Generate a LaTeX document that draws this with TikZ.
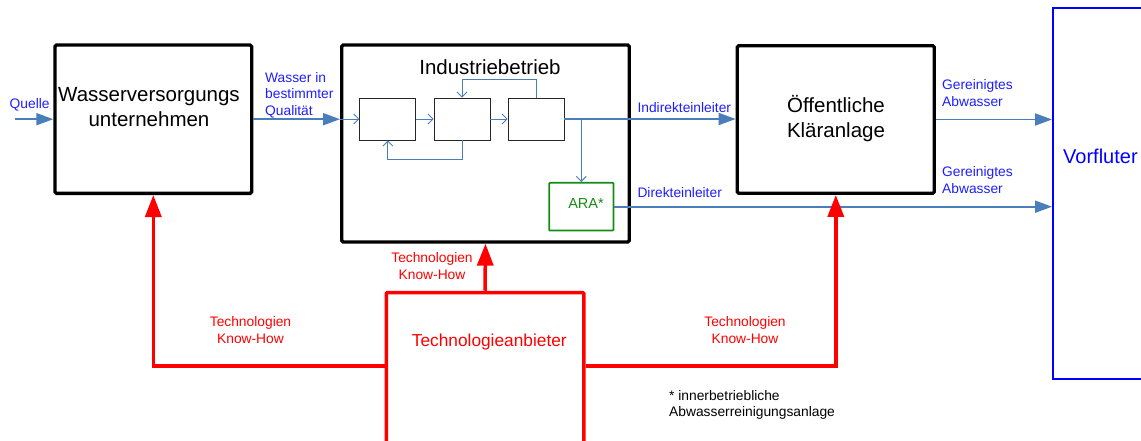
\documentclass[tikz,border=0pt]{standalone}
\usepackage{fontspec}
\setmainfont{Liberation Sans}
\usetikzlibrary{arrows.meta}
\definecolor{ablue}{RGB}{74,126,187}
\definecolor{tblue}{RGB}{30,30,255}
\definecolor{fblue}{RGB}{0,0,255}
\definecolor{agreen}{RGB}{20,140,20}
\definecolor{tred}{RGB}{255,0,0}
\tikzset{
  bbox/.style={draw=black, line width=3.3pt, rounded corners=1.5pt, inner sep=0pt},
  ibox/.style={draw=black!85, line width=0.9pt, inner sep=0pt, minimum width=56pt, minimum height=42pt},
  arabox/.style={draw=agreen, line width=1.8pt, inner sep=0pt, rounded corners=0.8pt},
  vbox/.style={draw=fblue, line width=2pt, inner sep=0pt},
  tbox/.style={draw=tred, line width=3.5pt, inner sep=0pt, rounded corners=1pt},
  bigtxt/.style={font=\fontsize{20.5}{25}\selectfont, inner sep=0pt, anchor=base},
  smalltxt/.style={font=\fontsize{13.8}{16.5}\selectfont, inner sep=0pt, anchor=base},
  bluetxt/.style={smalltxt, text=tblue, anchor=base west},
  redtxt/.style={smalltxt, text=tred},
  thickarr/.style={draw=ablue, line width=1.8pt, -{Triangle[length=17pt,width=12pt]}},
  thinarr/.style={draw=ablue, line width=0.9pt, -{Straight Barb[length=5pt,width=10pt]}},
  redarr/.style={draw=tred, line width=3.5pt, -{Triangle[length=22pt,width=16pt]}},
}
\begin{document}
\begin{tikzpicture}[x=1pt,y=-1pt]
\useasboundingbox (0,0) rectangle (1141,441);
\clip (0,0) rectangle (1141,441);

% main boxes
\node[bbox, minimum width=196.7pt, minimum height=148.3pt] (W) at (153.3,119.2) {};
\node[bbox, minimum width=287.6pt, minimum height=197pt] (I) at (485.5,143.5) {};
\node[bbox, minimum width=197pt, minimum height=147.6pt] (K) at (835.8,119.5) {};
\node[vbox, minimum width=117pt, minimum height=370.4pt] (V) at (1111.5,193.5) {};
\node[tbox, minimum width=197.5pt, minimum height=160pt] (T) at (485,372.5) {};

% inner boxes
\node[ibox] (B1) at (387.8,119) {};
\node[ibox] (B2) at (462,119) {};
\node[ibox] (B3) at (536,119) {};
\node[arabox, minimum width=64.3pt, minimum height=47.7pt] (A) at (581.3,206.7) {};

% box texts
\node[bigtxt] (Wt1) at (149,101.7) {Wasserversorgungs};
\node[bigtxt] (Wt2) at (149,126.7) {unternehmen};
\node[bigtxt] (It) at (490,75) {Industriebetrieb};
\node[bigtxt] (Kt1) at (836,112.3) {Öffentliche};
\node[bigtxt] (Kt2) at (836,137.7) {Kläranlage};
\node[bigtxt, text=fblue, anchor=base west, font=\fontsize{20}{24}\selectfont] (Vt) at (1063,163.3) {Vorfluter};
\node[smalltxt, text=agreen, font=\fontsize{14.5}{17}\selectfont] (At) at (586,208.3) {ARA*};
\node[smalltxt, text=tred, font=\fontsize{17.3}{20}\selectfont] (Tt) at (489.3,346.7) {Technologieanbieter};

% blue labels
\node[bluetxt] (lq) at (9.5,108.5) {Quelle};
\node[bluetxt] (lw1) at (265,82.3) {Wasser in};
\node[bluetxt] (lw2) at (265,99) {bestimmter};
\node[bluetxt] (lw3) at (265,116) {Qualität};
\node[bluetxt] (li) at (637.3,112.7) {Indirekteinleiter};
\node[bluetxt] (ld) at (637.3,197.7) {Direkteinleiter};
\node[bluetxt] (lg1) at (942,90) {Gereinigtes};
\node[bluetxt] (lg2) at (942,106.7) {Abwasser};
\node[bluetxt] (lg3) at (942,176.7) {Gereinigtes};
\node[bluetxt] (lg4) at (942,193.7) {Abwasser};

% red labels
\node[redtxt] (rm1) at (432,262.7) {Technologien};
\node[redtxt] (rm2) at (432,279.3) {Know-How};
\node[redtxt] (rl1) at (250.5,326.7) {Technologien};
\node[redtxt] (rl2) at (250.5,343.3) {Know-How};
\node[redtxt] (rr1) at (745,326.7) {Technologien};
\node[redtxt] (rr2) at (745,343.3) {Know-How};

% footnote
\node[smalltxt, anchor=base west] (f1) at (669,400) {* innerbetriebliche};
\node[smalltxt, anchor=base west] (f2) at (669,416.7) {Abwasserreinigungsanlage};

% blue connectors
\coordinate (Q) at (15,119.2);
\draw[thickarr] (Q) -- (W.west);
\draw[thickarr] (W.east) -- (I.west |- W.east);
\draw[thinarr] (I.west |- B1.west) -- (B1.west);
\draw[thinarr] (B1.east) -- (B2.west);
\draw[thinarr] (B2.east) -- (B3.west);
\draw[thickarr] (B3.east) -- (K.west |- B3.east);
\draw[thinarr] (A.north |- B3.east) -- (A.north);
\draw[thinarr] (B3.north) -- ++(0,-18) -| (B2.north);
\draw[thinarr] (B2.south) -- ++(0,19) -| (B1.south);
\draw[thickarr] (K.east) -- (V.west |- K.east);
\draw[thickarr] (A.east) -- (V.west |- A.east);

% red connectors
\coordinate (L) at (154,366);
\draw[redarr] (T.north) -- (I.south);
\draw[redarr] (T.west |- L) -- (W.south |- L) -- (W.south);
\draw[redarr] (T.east |- L) -- (K.south |- L) -- (K.south);
\end{tikzpicture}
\end{document}
